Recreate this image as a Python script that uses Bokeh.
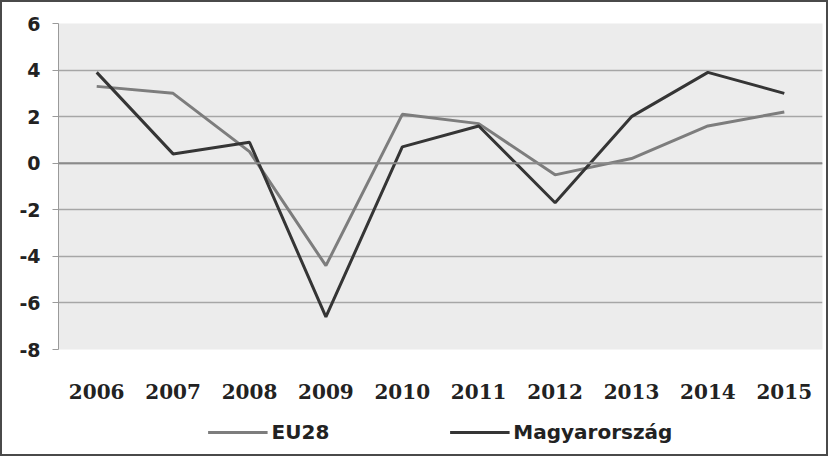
from bokeh.plotting import figure
from bokeh.layouts import column
from bokeh.models import Legend, LegendItem, Span, FixedTicker, Range1d
from bokeh.embed import file_html
from bokeh.resources import INLINE

years = ["2006", "2007", "2008", "2009", "2010", "2011", "2012", "2013", "2014", "2015"]
eu28 = [3.3, 3.0, 0.5, -4.4, 2.1, 1.7, -0.5, 0.2, 1.6, 2.2]
hungary = [3.9, 0.4, 0.9, -6.6, 0.7, 1.6, -1.7, 2.0, 3.9, 3.0]
y_ticks = [-8, -6, -4, -2, 0, 2, 4, 6]
series_names = ["EU28", "Magyarország"]
series_colors = ["#7d7d7d", "#353535"]

p = figure(x_range=years, y_range=Range1d(-8, 6), width=824, height=407,
           output_backend="svg", toolbar_location=None,
           min_border_left=56, min_border_right=4, min_border_top=21, min_border_bottom=60,
           background_fill_color="#ececec", border_fill_color="white")
p.outline_line_color = None

p.xgrid.grid_line_color = None
p.ygrid.grid_line_color = "#a6a6a6"
p.ygrid.grid_line_width = 1.5
p.yaxis.ticker = FixedTicker(ticks=y_ticks)
p.yaxis.major_label_overrides = {t: str(t) for t in y_ticks}
p.yaxis.axis_line_color = "#9a9a9a"
p.yaxis.major_tick_line_color = "#9a9a9a"
p.yaxis.major_tick_out = 6
p.yaxis.major_tick_in = 0
p.yaxis.minor_tick_line_color = None
p.yaxis.major_label_standoff = 12
p.yaxis.major_label_text_font = "DejaVu Sans"
p.yaxis.major_label_text_font_style = "bold"
p.yaxis.major_label_text_font_size = "19px"
p.yaxis.major_label_text_color = "#222222"

p.xaxis.axis_line_color = None
p.xaxis.major_tick_line_color = None
p.xaxis.minor_tick_line_color = None
p.xaxis.major_label_standoff = 28
p.xaxis.major_label_text_font = "DejaVu Serif"
p.xaxis.major_label_text_font_style = "bold"
p.xaxis.major_label_text_font_size = "20px"
p.xaxis.major_label_text_color = "#222222"

p.add_layout(Span(location=0, dimension="width", line_color="#8a8a8a", line_width=2))

p.line(years, eu28, line_color=series_colors[0], line_width=3)
p.line(years, hungary, line_color=series_colors[1], line_width=3)

# legend strip below the chart (its lines lie outside its visible range)
lg = figure(x_range=years, y_range=Range1d(100, 101), width=824, height=45,
            output_backend="svg", toolbar_location=None,
            x_axis_location=None, y_axis_location=None,
            min_border_left=0, min_border_right=0, min_border_top=0, min_border_bottom=0,
            background_fill_color="white", border_fill_color="white")
lg.outline_line_color = None
lg.grid.visible = False
l_eu = lg.line(years, eu28, line_color=series_colors[0], line_width=3)
l_hu = lg.line(years, hungary, line_color=series_colors[1], line_width=3)

legend = Legend(items=[LegendItem(label=series_names[0], renderers=[l_eu]),
                       LegendItem(label=series_names[1], renderers=[l_hu])],
                orientation="horizontal", location="center",
                glyph_width=60, spacing=120, label_standoff=4,
                label_text_font="DejaVu Sans", label_text_font_style="bold",
                label_text_font_size="20px", label_text_color="#222222",
                border_line_color=None, background_fill_alpha=0, margin=0, padding=4)
lg.add_layout(legend, "center")

layout = column(p, lg, spacing=0, styles={"border": "2px solid #4a4a4a"})

open("out.html", "w").write(file_html(layout, INLINE))
